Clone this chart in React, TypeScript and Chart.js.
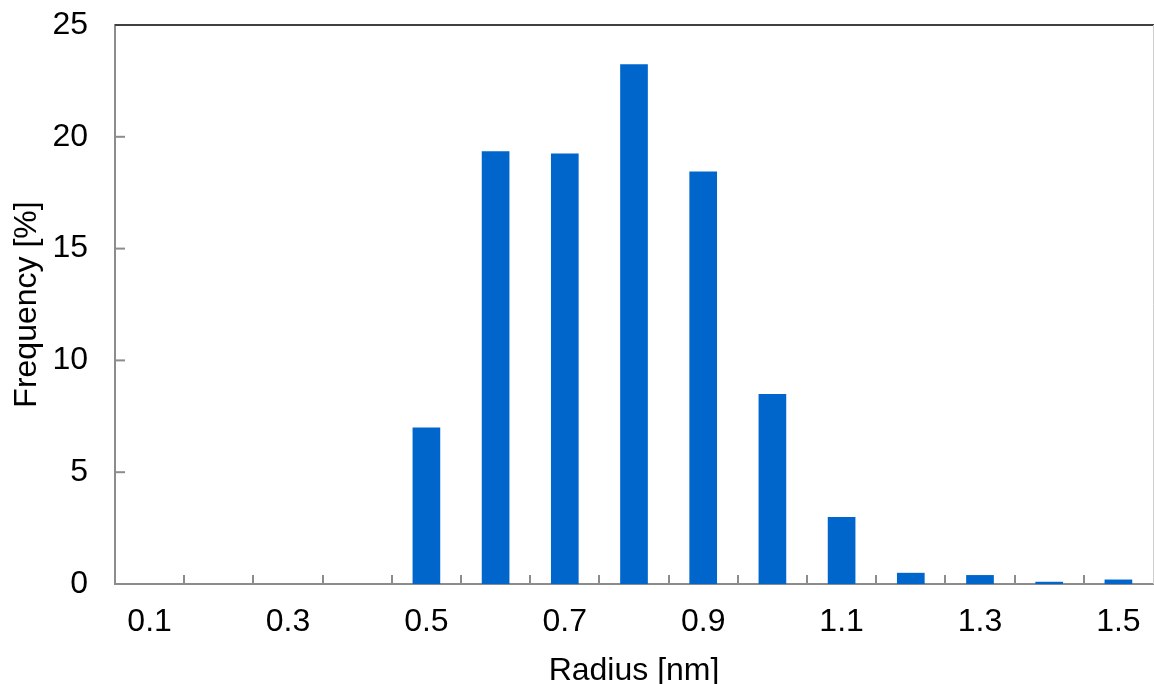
import React, { useEffect, useRef } from "react";
import { Chart, registerables } from "chart.js";

Chart.register(...registerables);

const radiusCategories = ["0.1", "0.2", "0.3", "0.4", "0.5", "0.6", "0.7", "0.8", "0.9", "1.0", "1.1", "1.2", "1.3", "1.4", "1.5"];
const frequencyValues = [0, 0, 0, 0, 7.0, 19.35, 19.25, 23.25, 18.45, 8.5, 3.0, 0.5, 0.4, 0.1, 0.2];
const yTickMin = 0;
const yTickMax = 25;
const yTickStep = 5;

const FONT = "'Liberation Sans', Arial, sans-serif";

const frameTicks = {
  id: "frameTicks",
  afterDraw(chart: any) {
    const { ctx, chartArea, scales } = chart;
    const { left, right, top, bottom } = chartArea;
    const x = scales.x;
    const y = scales.y;
    const line = (x1: number, y1: number, x2: number, y2: number) => {
      ctx.beginPath();
      ctx.moveTo(x1, y1);
      ctx.lineTo(x2, y2);
      ctx.stroke();
    };
    ctx.save();
    ctx.strokeStyle = "#8c8c8c";
    ctx.lineWidth = 2;
    y.ticks.forEach((t: any) => {
      const py = y.getPixelForValue(t.value);
      line(left, py, left + 10, py);
    });
    for (let i = 0; i < x.ticks.length - 1; i++) {
      const px = Math.round((x.getPixelForTick(i) + x.getPixelForTick(i + 1)) / 2);
      line(px, bottom, px, bottom - 9);
    }
    ctx.strokeStyle = "#404040";
    ctx.lineWidth = 2;
    line(left, top, right + 1, top);
    ctx.strokeStyle = "#cfcfcf";
    ctx.lineWidth = 1;
    line(right + 0.5, top, right + 0.5, bottom);
    ctx.restore();
  },
};

export default function App() {
  const canvasRef = useRef<HTMLCanvasElement | null>(null);

  useEffect(() => {
    const canvas = canvasRef.current;
    if (!canvas) return;
    const chart = new Chart(canvas, {
      type: "bar",
      data: {
        labels: radiusCategories,
        datasets: [
          {
            data: frequencyValues,
            backgroundColor: "#0066CC",
            borderWidth: 0,
            barPercentage: 0.4,
            categoryPercentage: 1.0,
          },
        ],
      },
      options: {
        responsive: false,
        animation: false,
        devicePixelRatio: 1,
        layout: { padding: { left: 0, top: 25, right: 1, bottom: 0 } },
        plugins: {
          legend: { display: false },
          tooltip: { enabled: false },
        },
        scales: {
          x: {
            offset: true,
            grid: { display: false, drawTicks: false },
            border: { display: true, color: "#8c8c8c", width: 2 },
            ticks: {
              autoSkip: false,
              maxRotation: 0,
              minRotation: 0,
              padding: 19,
              color: "#000",
              font: { family: FONT, size: 32 },
              callback: (_v: any, i: number) => (i % 2 === 0 ? radiusCategories[i] : ""),
            },
            title: {
              display: true,
              text: "Radius [nm]",
              color: "#000",
              font: { family: FONT, size: 32, lineHeight: 0.82 },
              padding: 0,
            },
            afterFit: (scale: any) => {
              scale.height = 100;
              scale.paddingLeft = 0;
              scale.paddingRight = 0;
            },
          },
          y: {
            min: yTickMin,
            max: yTickMax,
            grid: { display: false, drawTicks: false },
            border: { display: true, color: "#8c8c8c", width: 2 },
            ticks: {
              stepSize: yTickStep,
              padding: 27,
              color: "#000",
              font: { family: FONT, size: 32 },
            },
            title: {
              display: true,
              text: "Frequency [%]",
              color: "#000",
              font: { family: FONT, size: 32, lineHeight: 0.75 },
              padding: { top: 15, bottom: 0 },
            },
            afterFit: (scale: any) => {
              scale.width = 115;
              scale.paddingTop = 0;
              scale.paddingBottom = 0;
            },
          },
        },
      },
      plugins: [frameTicks],
    } as any);
    return () => chart.destroy();
  }, []);

  return (
    <div style={{ position: "absolute", left: 0, top: 0, width: 1154, height: 684, overflow: "hidden", background: "#fff" }}>
      <canvas ref={canvasRef} width={1154} height={684} style={{ display: "block" }} />
    </div>
  );
}
